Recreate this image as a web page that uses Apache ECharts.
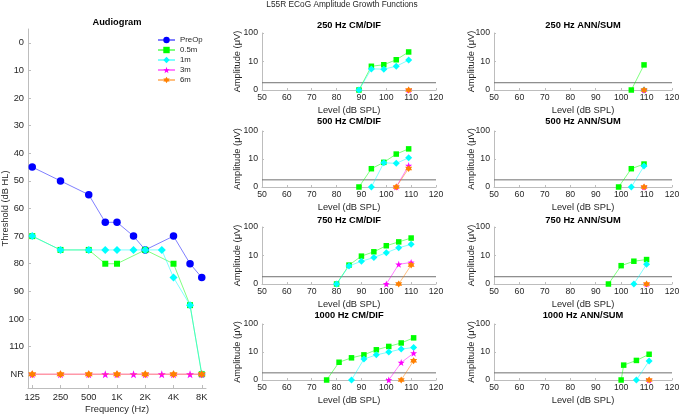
<!DOCTYPE html>
<html><head><meta charset="utf-8">
<script src="https://cdn.jsdelivr.net/npm/echarts@6/dist/echarts.min.js"></script>
<style>html,body{margin:0;padding:0;background:#fff}#c{width:680px;height:415px}</style>
</head><body><div id="c"></div>
<script>
// ---------- Audiogram data (threshold dB HL, 120 = NR) ----------
const audFreqs   = [125, 250, 500, 750, 1000, 1500, 2000, 3000, 4000, 6000, 8000];
const audPreOp   = [45, 50, 55, 65, 65, 70, 75, null, 70, 80, 85];
const aud05m     = [70, 75, 75, 80, 80, null, 75, null, 80, 95, 120];
const aud1m      = [70, 75, 75, 75, 75, 75, 75, 75, 85, 95, 120];
const aud3m      = [120, 120, 120, 120, 120, 120, 120, 120, 120, 120, 120];
const aud6m      = [120, 120, 120, null, 120, null, 120, null, 120, null, 120];
const audTickFreqs  = [125, 250, 500, 1000, 2000, 4000, 8000];
const audTickLabels = ['125', '250', '500', '1K', '2K', '4K', '8K'];
const thrTicks      = [0, 10, 20, 30, 40, 50, 60, 70, 80, 90, 100, 110, 120];
const thrTickLabels = ['0', '10', '20', '30', '40', '50', '60', '70', '80', '90', '100', '110', 'NR'];
const seriesNames   = ['PreOp', '0.5m', '1m', '3m', '6m'];

// ---------- ECoG amplitude growth (µV, 0 = no response) ----------
const cm250Levels = [89, 94, 99, 104, 109];
const cm250_05m   = [0, 6.8, 7.7, 11.5, 21.6];
const cm250_1m    = [0, 5.5, 5.4, 6.8, 11.2];
const cm250_3m    = [null, null, null, null, 0];
const cm250_6m    = [null, null, null, null, 0];

const cm500Levels = [89, 94, 99, 104, 109];
const cm500_05m   = [0, 4.5, 7.6, 15, 23];
const cm500_1m    = [null, 0, 7.3, 7.0, 11];
const cm500_3m    = [null, null, null, 0, 5.8];
const cm500_6m    = [null, null, null, 0, 4.6];

const cm750Levels = [80, 85, 90, 95, 100, 105, 110];
const cm750_05m   = [0, 4.6, 9.5, 13.5, 22, 30, 41];
const cm750_1m    = [0, 4.3, 6.3, 8.5, 12.5, 18.7, 24.6];
const cm750_3m    = [null, null, null, null, 0, 4.9, 5.7];
const cm750_6m    = [null, null, null, null, null, 0, 4.6];

const cm1000Levels = [76, 81, 86, 91, 96, 101, 106, 111];
const cm1000_05m   = [0, 4.3, 6.2, 7.9, 12, 15.8, 21, 32];
const cm1000_1m    = [null, null, 0, 5.6, 7.9, 9.9, 12.7, 14.5];
const cm1000_3m    = [null, null, null, null, null, 0, 4.2, 9.1];
const cm1000_6m    = [null, null, null, null, null, null, 0, 4.9];

const ann250Levels = [104, 109];
const ann250_05m   = [0, 7.6];
const ann250_1m    = [null, 0];
const ann250_3m    = [null, 0];
const ann250_6m    = [null, 0];

const ann500Levels = [99, 104, 109];
const ann500_05m   = [0, 4.5, 6.6];
const ann500_1m    = [null, 0, 5.6];
const ann500_3m    = [null, null, 0];
const ann500_6m    = [null, null, 0];

const ann750Levels = [95, 100, 105, 110];
const ann750_05m   = [0, 4.4, 6.3, 7.2];
const ann750_1m    = [null, null, 0, 4.9];
const ann750_3m    = [null, null, null, 0];
const ann750_6m    = [null, null, null, 0];

const ann1000Levels = [100, 101, 106, 111];
const ann1000_05m   = [0, 3.4, 5.0, 8.3];
const ann1000_1m    = [null, null, 0, 4.8];
const ann1000_3m    = [null, null, null, 0];
const ann1000_6m    = [null, null, null, 0];

const noiseFloor = [1.8, 1.8, 1.8, 1.8, 1.8, 1.8, 1.8, 1.8];
const panelTitles = ['250 Hz CM/DIF', '250 Hz ANN/SUM', '500 Hz CM/DIF', '500 Hz ANN/SUM',
                     '750 Hz CM/DIF', '750 Hz ANN/SUM', '1000 Hz CM/DIF', '1000 Hz ANN/SUM'];
const ampTicks = [0, 10, 100];

// ---------- styling ----------
const FONT = '"Liberation Sans", Arial, Helvetica, sans-serif';
const FS = 9.3;
const TFS = 8.7;
const TXT = '#262626';
const AX = '#bdbdbd';
const colors = { 'PreOp': '#0000ff', '0.5m': '#00ff00', '1m': '#00ffff', '3m': '#ff00ff', '6m': '#ff8000' };
const STAR = 'path://M0,-10L2.35,-3.24L9.51,-3.09L3.8,1.24L5.88,8.09L0,4L-5.88,8.09L-3.8,1.24L-9.51,-3.09L-2.35,-3.24Z';
const HEX = 'path://M0,-10L2.89,-5L8.66,-5L5.77,0L8.66,5L2.89,5L0,10L-2.89,5L-8.66,5L-5.77,0L-8.66,-5L-2.89,-5Z';
const symbols = { 'PreOp': 'circle', '0.5m': 'rect', '1m': 'diamond', '3m': STAR, '6m': HEX };
const audSizes = { 'PreOp': 7.5, '0.5m': 6, '1m': 8, '3m': 8, '6m': 8 };
const panSizes = { 'PreOp': 6, '0.5m': 5.5, '1m': 7, '3m': 7, '6m': 7 };

const octave = f => Math.log2(f / 125);

const grids = [];
const xAxes = [];
const yAxes = [];
const series = [];
const graphics = [];

// Audiogram
grids.push({ left: 28, top: 29, width: 178, height: 359, containLabel: false, outerBoundsMode: 'none' });
xAxes.push({
  gridIndex: 0, type: 'value', min: -0.15, max: 6.15, position: 'bottom',
  axisLine: { show: true, onZero: false, lineStyle: { color: AX } },
  axisTick: { show: true, inside: true, length: 3, lineStyle: { color: AX }, customValues: audTickFreqs.map(octave) },
  axisLabel: { fontFamily: FONT, fontSize: FS, color: TXT, margin: 5, customValues: audTickFreqs.map(octave),
    formatter: v => { const i = audTickFreqs.findIndex(f => Math.abs(octave(f) - v) < 1e-6); return i >= 0 ? audTickLabels[i] : ''; } },
  splitLine: { show: false },
  name: 'Frequency (Hz)', nameLocation: 'middle', nameGap: 16.5, nameMoveOverlap: false,
  nameTextStyle: { fontFamily: FONT, fontSize: FS, color: TXT }
});
yAxes.push({
  gridIndex: 0, type: 'value', min: -5, max: 125, inverse: true, position: 'left',
  axisLine: { show: true, onZero: false, lineStyle: { color: AX } },
  axisTick: { show: true, inside: true, length: 3, lineStyle: { color: AX }, customValues: thrTicks },
  axisLabel: { fontFamily: FONT, fontSize: FS, color: TXT, margin: 4, customValues: thrTicks,
    formatter: v => { const i = thrTicks.indexOf(Math.round(v)); return i >= 0 ? thrTickLabels[i] : ''; } },
  splitLine: { show: false },
  name: 'Threshold (dB HL)', nameLocation: 'middle', nameGap: 18, nameRotate: 90, nameMoveOverlap: false,
  nameTextStyle: { fontFamily: FONT, fontSize: FS, color: TXT }
});
const audSeries = [audPreOp, aud05m, aud1m, aud3m, aud6m];
audSeries.forEach((vals, k) => {
  const nm = seriesNames[k];
  const data = [];
  vals.forEach((v, i) => { if (v !== null) data.push([octave(audFreqs[i]), v]); });
  series.push({
    name: nm, type: 'line', xAxisIndex: 0, yAxisIndex: 0, data,
    symbol: symbols[nm], symbolSize: audSizes[nm], showAllSymbol: true,
    itemStyle: { color: colors[nm] },
    lineStyle: { color: colors[nm], width: 1, opacity: 0.5 },
    emphasis: { disabled: true }, z: 3 + k
  });
});
graphics.push({ type: 'text', x: 117, y: 22, style: { text: 'Audiogram', font: 'bold ' + FS + 'px ' + FONT, fill: '#000', textAlign: 'center', textVerticalAlign: 'middle' } });
graphics.push({ type: 'text', x: 342, y: 5, style: { text: 'L55R ECoG Amplitude Growth Functions', font: '8.3px ' + FONT, fill: TXT, textAlign: 'center', textVerticalAlign: 'middle' } });

// ECoG panels
const panels = [
  { levels: cm250Levels,  s: [cm250_05m, cm250_1m, cm250_3m, cm250_6m] },
  { levels: ann250Levels, s: [ann250_05m, ann250_1m, ann250_3m, ann250_6m] },
  { levels: cm500Levels,  s: [cm500_05m, cm500_1m, cm500_3m, cm500_6m] },
  { levels: ann500Levels, s: [ann500_05m, ann500_1m, ann500_3m, ann500_6m] },
  { levels: cm750Levels,  s: [cm750_05m, cm750_1m, cm750_3m, cm750_6m] },
  { levels: ann750Levels, s: [ann750_05m, ann750_1m, ann750_3m, ann750_6m] },
  { levels: cm1000Levels, s: [cm1000_05m, cm1000_1m, cm1000_3m, cm1000_6m] },
  { levels: ann1000Levels,s: [ann1000_05m, ann1000_1m, ann1000_3m, ann1000_6m] }
];
const colLeft = [262, 494], colWidth = [174, 178], colNameGap = [20.5, 18];
const rowTop = [33, 131, 227, 324], rowHeight = [57, 56, 57, 56];
const titleY = [25, 121, 220, 315];

panels.forEach((p, idx) => {
  const g = idx + 1;
  const col = idx % 2, row = Math.floor(idx / 2);
  grids.push({ left: colLeft[col], top: rowTop[row], width: colWidth[col], height: rowHeight[row], containLabel: false, outerBoundsMode: 'none' });
  xAxes.push({
    gridIndex: g, type: 'value', min: 50, max: 120, interval: 10, position: 'bottom',
    axisLine: { show: true, onZero: false, lineStyle: { color: AX } },
    axisTick: { show: true, inside: true, length: 2, lineStyle: { color: AX } },
    axisLabel: { fontFamily: FONT, fontSize: TFS, color: TXT, margin: 3 },
    splitLine: { show: false },
    name: 'Level (dB SPL)', nameLocation: 'middle', nameGap: 15.5, nameMoveOverlap: false,
    nameTextStyle: { fontFamily: FONT, fontSize: FS, color: TXT }
  });
  yAxes.push({
    gridIndex: g, type: 'log', logBase: 10, min: 1, max: 100, position: 'left',
    axisLine: { show: true, onZero: false, lineStyle: { color: AX } },
    axisTick: { show: true, inside: true, length: 2, lineStyle: { color: AX } },
    axisLabel: { fontFamily: FONT, fontSize: TFS, color: TXT, margin: 4,
      formatter: v => (Math.abs(v - 1) < 1e-9 ? String(ampTicks[0]) : String(Math.round(v))) },
    splitLine: { show: false },
    name: 'Amplitude (\u03bcV)', nameLocation: 'middle', nameGap: colNameGap[col], nameRotate: 90, nameMoveOverlap: false,
    nameTextStyle: { fontFamily: FONT, fontSize: FS, color: TXT }
  });
  // noise floor reference line
  series.push({
    type: 'line', xAxisIndex: g, yAxisIndex: g, silent: true, symbol: 'none',
    data: [[50, noiseFloor[idx]], [120, noiseFloor[idx]]],
    lineStyle: { color: '#707070', width: 1 }, z: 2
  });
  p.s.forEach((vals, k) => {
    const nm = seriesNames[k + 1];
    const data = [];
    // a response of 0 µV is drawn on the "0" floor of the log axis (value 1)
    vals.forEach((v, i) => { if (v !== null) data.push([p.levels[i], Math.max(v, 1)]); });
    series.push({
      name: nm, type: 'line', xAxisIndex: g, yAxisIndex: g, data,
      symbol: symbols[nm], symbolSize: panSizes[nm], showAllSymbol: true,
      itemStyle: { color: colors[nm] },
      lineStyle: { color: colors[nm], width: 1, opacity: 0.5 },
      emphasis: { disabled: true }, z: 3 + k
    });
  });
  const cx = colLeft[col] + colWidth[col] / 2;
  graphics.push({ type: 'text', x: cx, y: titleY[row], style: { text: panelTitles[idx], font: 'bold ' + FS + 'px ' + FONT, fill: '#000', textAlign: 'center', textVerticalAlign: 'middle' } });
});

const chart = echarts.init(document.getElementById('c'), null, { renderer: 'canvas' });
chart.setOption({
  animation: false,
  backgroundColor: '#fff',
  grid: grids,
  xAxis: xAxes,
  yAxis: yAxes,
  legend: {
    data: seriesNames, orient: 'vertical', left: 157, top: 36,
    itemWidth: 17, itemHeight: 8, itemGap: 2, padding: 0,
    textStyle: { fontFamily: FONT, fontSize: 7.8, color: TXT, lineHeight: 8 },
    selectedMode: false
  },
  graphic: graphics,
  series
});
</script></body></html>
